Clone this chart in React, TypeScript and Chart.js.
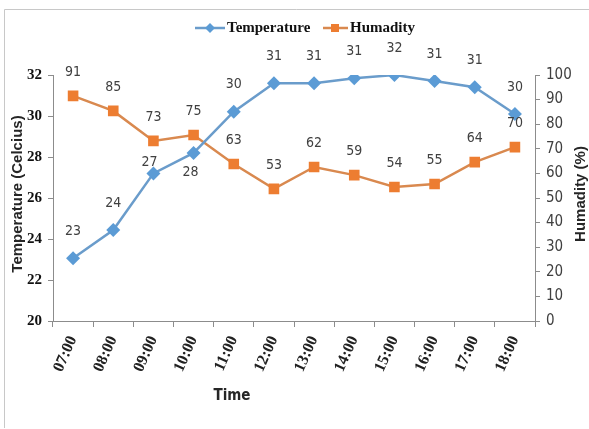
import React, { useEffect, useRef } from "react";
import { Chart, registerables } from "chart.js";

Chart.register(...registerables);

const times = ["07:00", "08:00", "09:00", "10:00", "11:00", "12:00", "13:00", "14:00", "15:00", "16:00", "17:00", "18:00"];
const temperature = [23.06, 24.44, 27.2, 28.2, 30.21, 31.6, 31.6, 31.84, 32.0, 31.71, 31.4, 30.1];
const humidity = [91.5, 85.4, 73.2, 75.6, 63.8, 53.7, 62.6, 59.3, 54.5, 55.7, 64.6, 70.7];

const seriesNames = ["Temperature", "Humadity"];
const tempAxisTitle = "Temperature (Celcius)";
const humAxisTitle = "Humadity (%)";
const xAxisTitle = "Time";

const BLUE = "#5B9BD5";
const BLUE_LINE = "#6A9CCB";
const ORANGE = "#ED7D31";
const ORANGE_LINE = "#D9894F";

const SERIF = '"Liberation Serif", "DejaVu Serif", serif';
const NARROW = '"DejaVu Sans Condensed", "Liberation Sans", sans-serif';
const SANS = '"Liberation Sans", "DejaVu Sans", sans-serif';

const decorPlugin = {
  id: "decor",
  beforeDraw(chart: any) {
    const ctx = chart.ctx;
    ctx.save();
    ctx.fillStyle = "#ffffff";
    ctx.fillRect(0, 0, chart.width, chart.height);
    ctx.strokeStyle = "#c8c8c8";
    ctx.lineWidth = 1;
    ctx.beginPath();
    ctx.moveTo(4.5, 428);
    ctx.lineTo(4.5, 9.5);
    ctx.lineTo(chart.width, 9.5);
    ctx.stroke();
    ctx.restore();
  },
  afterDatasetsDraw(chart: any) {
    const ctx = chart.ctx;
    ctx.save();
    ctx.font = "14px " + NARROW;
    ctx.fillStyle = "#404040";
    ctx.textAlign = "center";
    ctx.textBaseline = "middle";
    chart.data.datasets.forEach((ds: any, di: number) => {
      const meta = chart.getDatasetMeta(di);
      meta.data.forEach((pt: any, i: number) => {
        const v = Math.floor(ds.data[i]);
        let dx = 0;
        let dy = di === 0 ? -27 : -24;
        if (di === 0 && i === 2) { dy = -11; dx = -4; }
        if (di === 0 && i === 3) { dy = 19; dx = -3; }
        ctx.fillText(String(v), pt.x + dx, pt.y + dy);
      });
    });
    ctx.restore();
  },
  afterDraw(chart: any) {
    const ctx = chart.ctx;
    const area = chart.chartArea;
    const midY = (area.top + area.bottom) / 2 - 4;
    ctx.save();
    ctx.fillStyle = "#262626";
    ctx.textAlign = "center";
    ctx.textBaseline = "middle";
    ctx.font = "bold 15px " + SANS;
    ctx.save();
    ctx.translate(18, midY);
    ctx.rotate(-Math.PI / 2);
    ctx.fillText(tempAxisTitle, 0, 0);
    ctx.restore();
    ctx.save();
    ctx.translate(581, midY);
    ctx.rotate(-Math.PI / 2);
    ctx.fillText(humAxisTitle, 0, 0);
    ctx.restore();
    ctx.font = "bold 15px " + NARROW;
    ctx.fillText(xAxisTitle, 232, 396);

    // legend
    const ly = 28;
    ctx.lineWidth = 2.5;
    ctx.strokeStyle = BLUE_LINE;
    ctx.beginPath();
    ctx.moveTo(195, ly);
    ctx.lineTo(225, ly);
    ctx.stroke();
    ctx.fillStyle = BLUE;
    ctx.beginPath();
    ctx.moveTo(210, ly - 5);
    ctx.lineTo(215, ly);
    ctx.lineTo(210, ly + 5);
    ctx.lineTo(205, ly);
    ctx.closePath();
    ctx.fill();
    ctx.strokeStyle = ORANGE_LINE;
    ctx.beginPath();
    ctx.moveTo(323, ly);
    ctx.lineTo(348, ly);
    ctx.stroke();
    ctx.fillStyle = ORANGE;
    ctx.fillRect(331, ly - 4, 8, 8);
    ctx.fillStyle = "#111111";
    ctx.textAlign = "left";
    ctx.font = "bold 15px " + SERIF;
    ctx.fillText(seriesNames[0], 227, ly);
    ctx.fillText(seriesNames[1], 350, ly);
    ctx.restore();
  },
};

export default function App() {
  const ref = useRef<HTMLCanvasElement | null>(null);
  useEffect(() => {
    document.body.style.margin = "0";
    const canvas = ref.current;
    if (!canvas) return;
    const chart = new Chart(canvas, {
      type: "line",
      data: {
        labels: times,
        datasets: [
          {
            label: seriesNames[0],
            data: temperature,
            yAxisID: "y",
            borderColor: BLUE_LINE,
            backgroundColor: BLUE,
            borderWidth: 2.5,
            pointStyle: "rectRot",
            pointRadius: 7,
            pointBorderWidth: 0,
            pointBackgroundColor: BLUE,
            tension: 0,
          },
          {
            label: seriesNames[1],
            data: humidity,
            yAxisID: "y1",
            borderColor: ORANGE_LINE,
            backgroundColor: ORANGE,
            borderWidth: 2.5,
            pointStyle: "rect",
            pointRadius: 7.5,
            pointBorderWidth: 0,
            pointBackgroundColor: ORANGE,
            tension: 0,
          },
        ],
      },
      options: {
        animation: false,
        responsive: false,
        devicePixelRatio: 1,
        layout: { padding: { top: 75, left: 0, right: 0, bottom: 0 } },
        plugins: {
          legend: { display: false },
          tooltip: { enabled: false },
          title: { display: false },
        },
        scales: {
          x: {
            type: "category",
            offset: true,
            grid: {
              display: true,
              drawOnChartArea: false,
              offset: true,
              tickLength: 6,
              color: "#8c8c8c",
            },
            border: { display: true, color: "#8c8c8c" },
            ticks: {
              autoSkip: false,
              maxRotation: 66,
              minRotation: 66,
              padding: 6,
              color: "#222222",
              font: { family: SERIF, size: 16, weight: "bold" },
            },
            afterFit: (s: any) => { s.height = 108; },
          },
          y: {
            position: "left",
            min: 20,
            max: 32,
            ticks: {
              stepSize: 2,
              padding: 6,
              color: "#111111",
              font: { family: SERIF, size: 15, weight: "bold" },
            },
            grid: { drawOnChartArea: false, tickLength: 5, color: "#8c8c8c" },
            border: { display: true, color: "#8c8c8c" },
            afterFit: (s: any) => { s.width = 53; },
          },
          y1: {
            position: "right",
            min: 0,
            max: 100,
            ticks: {
              stepSize: 10,
              padding: 6,
              color: "#404040",
              font: { family: NARROW, size: 15 },
            },
            grid: { drawOnChartArea: false, tickLength: 5, color: "#8c8c8c" },
            border: { display: true, color: "#8c8c8c" },
            afterFit: (s: any) => { s.width = 54; },
          },
        },
      },
      plugins: [decorPlugin],
    } as any);
    return () => chart.destroy();
  }, []);
  return (
    <div style={{ position: "absolute", left: 0, top: 0, width: 589, height: 429 }}>
      <canvas ref={ref} width={589} height={429} style={{ width: 589, height: 429, display: "block" }} />
    </div>
  );
}
